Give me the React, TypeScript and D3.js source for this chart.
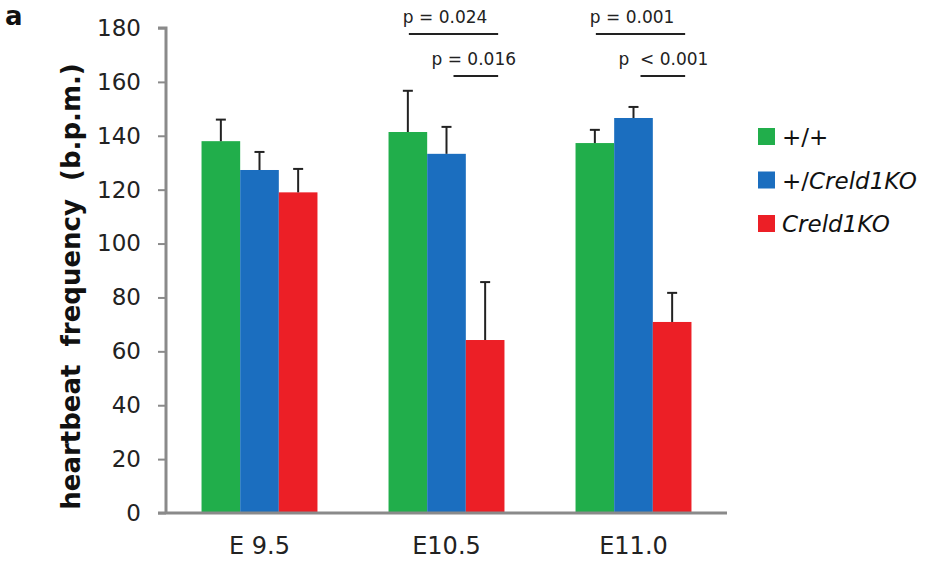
import React, { useRef, useEffect } from 'react';
import * as d3 from 'd3';

const stages = ['E 9.5', 'E10.5', 'E11.0'];
const genotypes = ['+/+', '+/Creld1KO', 'Creld1KO'];
const colors = ['#21ae4b', '#1b6ebf', '#ec1f26'];

// mean heartbeat per stage, one array per genotype
const wildType = [138, 141.4, 137.3];
const hetero = [127.3, 133.3, 146.6];
const knockout = [119, 64.2, 70.9];
// upper end of error bars
const wildTypeErr = [146, 156.7, 142.2];
const heteroErr = [134, 143.3, 150.7];
const knockoutErr = [127.7, 85.7, 81.7];

const yTicks = [0, 20, 40, 60, 80, 100, 120, 140, 160, 180];

// significance brackets: stage, from genotype, to genotype, label, level
const pStage = ['E10.5', 'E10.5', 'E11.0', 'E11.0'];
const pFrom = [0, 1, 0, 1];
const pTo = [2, 2, 2, 2];
const pLabel = ['p = 0.024', 'p = 0.016', 'p = 0.001', 'p  < 0.001'];
const pLevel = [0, 1, 0, 1];

const App = () => {
  const svgRef = useRef(null);

  useEffect(() => {
    const width = 939;
    const height = 563;
    const left = 166;
    const right = 727;
    const top = 28;
    const bottom = 513;
    const font = '"DejaVu Sans", Verdana, sans-serif';

    const svg = d3.select(svgRef.current)
      .attr('width', width)
      .attr('height', height)
      .style('position', 'absolute')
      .style('left', 0)
      .style('top', 0)
      .style('background', '#fff')
      .style('font-family', font);
    svg.selectAll('*').remove();

    const x0 = d3.scaleBand().domain(stages).range([left, right]).paddingInner(0.38).paddingOuter(0.19);
    const x1 = d3.scaleBand().domain(genotypes).range([0, x0.bandwidth()]);
    const y = d3.scaleLinear().domain([0, 180]).range([bottom, top]);

    const series = [wildType, hetero, knockout];
    const errs = [wildTypeErr, heteroErr, knockoutErr];
    const cx = (s, g) => x0(s) + x1(g) + x1.bandwidth() / 2;

    // bars
    genotypes.forEach((g, gi) => {
      svg.append('g')
        .selectAll('rect')
        .data(stages)
        .enter()
        .append('rect')
        .attr('x', s => x0(s) + x1(g))
        .attr('y', (s, i) => y(series[gi][i]))
        .attr('width', x1.bandwidth())
        .attr('height', (s, i) => y(0) - y(series[gi][i]))
        .attr('fill', colors[gi]);
    });

    // error bars (upper only)
    genotypes.forEach((g, gi) => {
      const eg = svg.append('g').attr('stroke', '#222').attr('stroke-width', 2);
      stages.forEach((s, i) => {
        const c = cx(s, g);
        eg.append('line')
          .attr('x1', c).attr('x2', c)
          .attr('y1', y(series[gi][i])).attr('y2', y(errs[gi][i]));
        eg.append('line')
          .attr('x1', c - 5).attr('x2', c + 5)
          .attr('y1', y(errs[gi][i])).attr('y2', y(errs[gi][i]));
      });
    });

    // y axis
    const yAxis = d3.axisLeft(y).tickValues(yTicks).tickSize(8).tickPadding(17);
    const ya = svg.append('g')
      .attr('transform', `translate(${left},0)`)
      .call(yAxis);
    ya.select('.domain').attr('stroke', '#8a8a8a').attr('stroke-width', 3)
      .attr('d', `M-8,${top}H0V${bottom}`);
    ya.selectAll('.tick line').attr('stroke', '#8a8a8a').attr('stroke-width', 2);
    ya.selectAll('.tick text')
      .attr('font-size', 23)
      .attr('font-family', font)
      .attr('fill', '#222');

    // x axis baseline
    svg.append('line')
      .attr('x1', left - 8).attr('x2', right)
      .attr('y1', bottom).attr('y2', bottom)
      .attr('stroke', '#8a8a8a').attr('stroke-width', 3);

    svg.append('g')
      .selectAll('text')
      .data(stages)
      .enter()
      .append('text')
      .attr('x', s => x0(s) + x0.bandwidth() / 2)
      .attr('y', 554)
      .attr('text-anchor', 'middle')
      .attr('font-size', 24)
      .attr('fill', '#222')
      .text(s => s);

    // y title
    svg.append('text')
      .attr('transform', `translate(80,${(top + bottom) / 2 + 16}) rotate(-90)`)
      .attr('text-anchor', 'middle')
      .attr('font-size', 26)
      .attr('font-weight', 'bold')
      .attr('fill', '#111')
      .style('white-space', 'pre')
      .text('heartbeat  frequency  (b.p.m.)');

    // panel letter
    svg.append('text')
      .attr('x', 5).attr('y', 25)
      .attr('font-size', 26)
      .attr('font-weight', 'bold')
      .attr('fill', '#111')
      .text('a');

    // significance brackets
    pLabel.forEach((lab, i) => {
      const s = pStage[i];
      const lvl = pLevel[i];
      const xa = cx(s, genotypes[pFrom[i]]) + (lvl === 0 ? 1 : 7);
      const xb = cx(s, genotypes[pTo[i]]) + 13;
      const ly = lvl === 0 ? 34 : 76;
      svg.append('line')
        .attr('x1', xa).attr('x2', xb)
        .attr('y1', ly).attr('y2', ly)
        .attr('stroke', '#222').attr('stroke-width', 2);
      svg.append('text')
        .attr('x', lvl === 0 ? xa - 6 : xa - 22)
        .attr('y', ly - 11)
        .attr('font-size', 17)
        .attr('fill', '#222')
        .style('white-space', 'pre')
        .text(lab);
    });

    // legend
    const lg = svg.append('g').attr('transform', 'translate(758,128)');
    genotypes.forEach((g, i) => {
      const row = lg.append('g').attr('transform', `translate(0,${i * 43.5})`);
      row.append('rect').attr('width', 17).attr('height', 17).attr('fill', colors[i]);
      const t = row.append('text').attr('x', 24).attr('y', 17).attr('font-size', 23).attr('fill', '#111');
      if (g.startsWith('+/C')) {
        t.append('tspan').text('+/');
        t.append('tspan').attr('font-style', 'italic').text('Creld1KO');
      } else if (g === '+/+') {
        t.text(g);
      } else {
        t.append('tspan').attr('font-style', 'italic').text(g);
      }
    });
  }, []);

  return <svg ref={svgRef}></svg>;
};

export default App;
